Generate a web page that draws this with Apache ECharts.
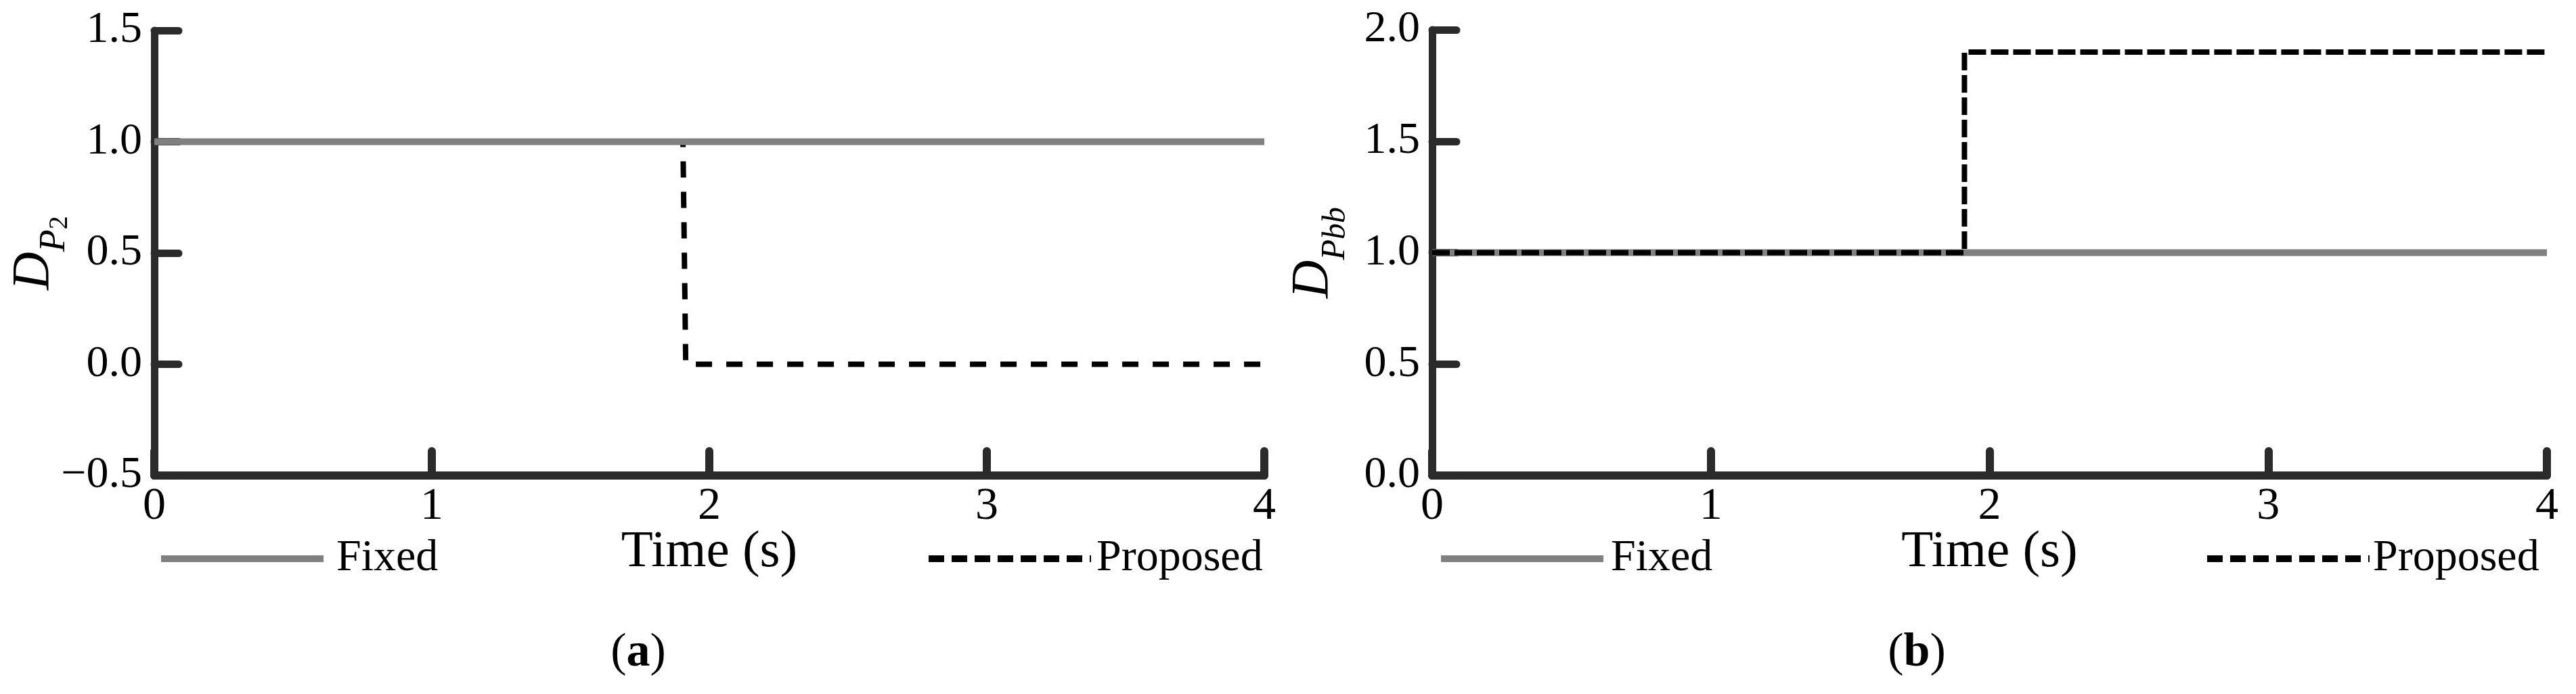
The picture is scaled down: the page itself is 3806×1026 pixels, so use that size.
<!DOCTYPE html>
<html>
<head>
<meta charset="utf-8">
<title>D_P2 / D_Pbb</title>
<script src="https://cdn.jsdelivr.net/npm/echarts@6.0.0/dist/echarts.min.js"></script>
<style>
  html, body { margin: 0; padding: 0; background: #fff; }
  #main { width: 3806px; height: 1026px; }
</style>
</head>
<body>
<div id="main"></div>
<script>
// 数据
var timeTicks = [0, 1, 2, 3, 4];
var yTicksA = [-0.5, 0, 0.5, 1.0, 1.5];
var yTicksB = [0, 0.5, 1.0, 1.5, 2.0];
var fixedA = [[0, 1], [4, 1]];
var proposedA = [[0, 1], [1.905, 1], [1.915, 0], [4, 0]];
var fixedB = [[0, 1], [4, 1]];
var proposedB = [[0, 1], [1.91, 1], [1.91, 1.9], [4, 1.9]];

var serif = 'Liberation Serif';
var axisColor = '#2b2b2b';
var gray = '#808080';

function xAxisOpt(idx) {
	return {
		type: 'value',
		gridIndex: idx,
		min: timeTicks[0],
		max: timeTicks[timeTicks.length - 1],
		interval: 1,
		name: 'Time (s)',
		nameLocation: 'middle',
		nameGap: 75,
		nameMoveOverlap: false,
		nameTextStyle: { fontFamily: serif, fontSize: 77, color: '#000' },
		axisLine: { show: true, onZero: false, lineStyle: { color: axisColor, width: 12, cap: 'round' } },
		axisTick: { show: true, inside: true, length: 36, lineStyle: { color: axisColor, width: 12, cap: 'round' } },
		axisLabel: { margin: 12, fontFamily: serif, fontSize: 68, color: '#000' },
		splitLine: { show: false }
	};
}

function yAxisOpt(idx, ticks, name, rich, gap) {
	return {
		type: 'value',
		gridIndex: idx,
		min: ticks[0],
		max: ticks[ticks.length - 1],
		interval: 0.5,
		name: name,
		nameLocation: 'middle',
		nameRotate: 90,
		nameGap: gap,
		nameMoveOverlap: false,
		nameTextStyle: { rich: rich },
		axisLine: { show: true, onZero: false, lineStyle: { color: axisColor, width: 11, cap: 'round' } },
		axisTick: { show: true, inside: true, length: 36, lineStyle: { color: axisColor, width: 11, cap: 'round' } },
		axisLabel: {
			margin: 18, fontFamily: serif, fontSize: 66, color: '#000',
			formatter: function (v) { return (v < 0 ? '\u2212' : '') + Math.abs(v).toFixed(1); }
		},
		splitLine: { show: false }
	};
}

// 下标用 rich text 做
var richA = {
	d: { fontFamily: serif, fontStyle: 'italic', fontSize: 78, lineHeight: 116, color: '#000' },
	p: { fontFamily: serif, fontStyle: 'italic', fontSize: 54, lineHeight: 64, verticalAlign: 'bottom', color: '#000' },
	s: { fontFamily: serif, fontSize: 40, lineHeight: 34, verticalAlign: 'bottom', color: '#000' }
};
var richB = {
	d: { fontFamily: serif, fontStyle: 'italic', fontSize: 78, lineHeight: 116, color: '#000' },
	p: { fontFamily: serif, fontStyle: 'italic', fontSize: 50, lineHeight: 62, verticalAlign: 'bottom', color: '#000' },
	s: { fontFamily: serif, fontStyle: 'italic', fontSize: 48, lineHeight: 44, verticalAlign: 'bottom', color: '#000' }
};

function legendOpt(name, left, pad, lineStyle) {
	return {
		left: left,
		top: 793,
		padding: 0,
		orient: 'horizontal',
		selectedMode: false,
		itemWidth: 240,
		itemHeight: 66,
		textStyle: { fontFamily: serif, fontSize: 66, color: '#000', padding: [0, 0, 0, pad] },
		data: [{ name: name, lineStyle: lineStyle, itemStyle: { opacity: 0, borderWidth: 0 } }]
	};
}

var fixedLegend = { color: gray, width: 10, type: 'solid' };
var propLegend = { color: '#000', width: 10, type: [23, 11] };

var myChart = echarts.init(document.getElementById('main'));
var option = {
	animation: false,
	backgroundColor: '#fff',
	textStyle: { fontFamily: serif },
	grid: [
		{ left: 228, top: 45, width: 1640, height: 658, containLabel: false, outerBoundsMode: 'none' },
		{ left: 2116, top: 44, width: 1647, height: 659, containLabel: false, outerBoundsMode: 'none' }
	],
	xAxis: [xAxisOpt(0), xAxisOpt(1)],
	yAxis: [
		yAxisOpt(0, yTicksA, '{d|D}{p|P}{s|2}', richA, 120),
		yAxisOpt(1, yTicksB, '{d|D}{p|P}{s|bb}', richB, 118)
	],
	legend: [
		legendOpt('Fixed', 233, 14, fixedLegend),
		legendOpt('Proposed', 1367, 3, propLegend),
		legendOpt('Fixed', 2124, 6, fixedLegend),
		legendOpt('Proposed', 3256, 0, propLegend)
	],
	graphic: [
		{
			type: 'text', x: 943, y: 966, silent: true,
			style: {
				text: '({b|a})', align: 'center', verticalAlign: 'middle', textAlign: 'center', textVerticalAlign: 'middle',
				fontFamily: serif, fontSize: 70, fill: '#000',
				rich: { b: { fontFamily: serif, fontSize: 70, fontWeight: 'bold', fill: '#000', color: '#000' } }
			}
		},
		{
			type: 'text', x: 2832, y: 966, silent: true,
			style: {
				text: '({b|b})', align: 'center', verticalAlign: 'middle', textAlign: 'center', textVerticalAlign: 'middle',
				fontFamily: serif, fontSize: 70, fill: '#000',
				rich: { b: { fontFamily: serif, fontSize: 70, fontWeight: 'bold', fill: '#000', color: '#000' } }
			}
		}
	],
	series: [
		{
			name: 'Proposed', type: 'line', xAxisIndex: 0, yAxisIndex: 0, data: proposedA,
			symbol: 'none', silent: true, z: 2,
			itemStyle: { color: '#000' },
			lineStyle: { color: '#000', width: 8, type: [24, 21] }
		},
		{
			name: 'Fixed', type: 'line', xAxisIndex: 0, yAxisIndex: 0, data: fixedA,
			symbol: 'none', silent: true, z: 3,
			itemStyle: { color: gray },
			lineStyle: { color: gray, width: 10 }
		},
		{
			name: 'Fixed', type: 'line', xAxisIndex: 1, yAxisIndex: 1, data: fixedB,
			symbol: 'none', silent: true, z: 2,
			itemStyle: { color: gray },
			lineStyle: { color: gray, width: 10 }
		},
		{
			name: 'Proposed', type: 'line', xAxisIndex: 1, yAxisIndex: 1, data: proposedB,
			symbol: 'none', silent: true, z: 3,
			itemStyle: { color: '#000' },
			lineStyle: { color: '#000', width: 8, type: [26, 7] }
		}
	]
};
myChart.setOption(option);
</script>
</body>
</html>
